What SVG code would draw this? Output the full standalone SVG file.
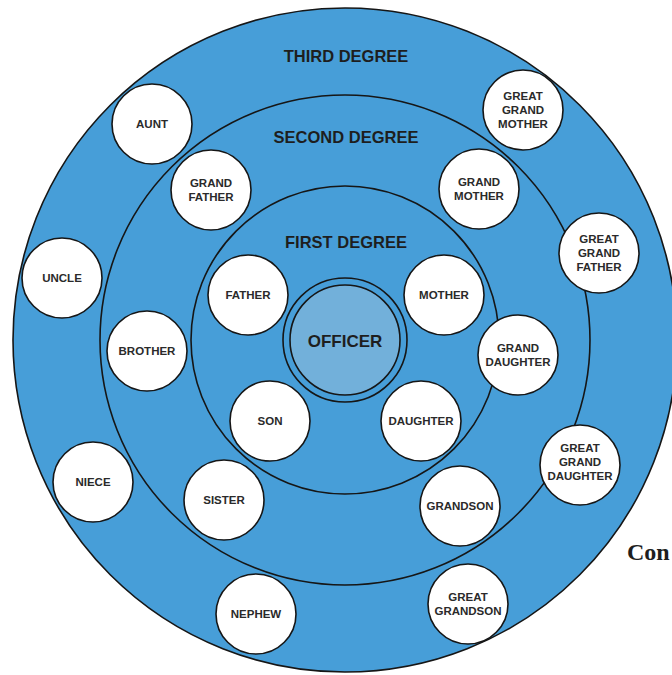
<svg xmlns="http://www.w3.org/2000/svg" width="672" height="675" viewBox="0 0 672 675">
<style>
.ring{fill:#479ED8;stroke:#161616;stroke-width:1.6}
.node{fill:#ffffff;stroke:#161616;stroke-width:1.6}
.lbl{font-family:"Liberation Sans",Arial,sans-serif;font-weight:bold;font-size:11.5px;fill:#2a2a2a;text-anchor:middle}
.deg{font-family:"Liberation Sans",Arial,sans-serif;font-weight:bold;font-size:16.5px;fill:#1e1e1e;text-anchor:middle}
</style>
<rect width="672" height="675" fill="#ffffff"/>
<g id="rings">
<circle class="ring" cx="345" cy="340" r="332"/>
<circle class="ring" cx="345" cy="340" r="245"/>
<circle class="ring" cx="345" cy="340" r="154"/>
<text class="deg" x="346" y="62">THIRD DEGREE</text>
<text class="deg" x="346" y="143">SECOND DEGREE</text>
<text class="deg" x="346" y="248">FIRST DEGREE</text>
</g>
<g id="connectors"></g>
<g id="officer">
<circle cx="345" cy="340" r="62" fill="#479ED8" stroke="#161616" stroke-width="1.6"/>
<circle cx="345" cy="340" r="55" fill="#72B0DA" stroke="#161616" stroke-width="1.6"/>
<text class="lbl" x="345" y="347" style="font-size:17px;fill:#1e1e1e">OFFICER</text>
</g>
<g id="father"><circle class="node" cx="248" cy="295" r="40"/><text class="lbl" x="248" y="299">FATHER</text></g>
<g id="mother"><circle class="node" cx="444" cy="295" r="40"/><text class="lbl" x="444" y="299">MOTHER</text></g>
<g id="son"><circle class="node" cx="270" cy="421" r="40"/><text class="lbl" x="270" y="425">SON</text></g>
<g id="daughter"><circle class="node" cx="421" cy="421" r="40"/><text class="lbl" x="421" y="425">DAUGHTER</text></g>
<g id="grandfather"><circle class="node" cx="211" cy="190" r="40"/><text class="lbl" x="211" y="187">GRAND</text><text class="lbl" x="211" y="201">FATHER</text></g>
<g id="grandmother"><circle class="node" cx="479" cy="189" r="40"/><text class="lbl" x="479" y="186">GRAND</text><text class="lbl" x="479" y="200">MOTHER</text></g>
<g id="brother"><circle class="node" cx="147" cy="351" r="40"/><text class="lbl" x="147" y="355">BROTHER</text></g>
<g id="granddaughter"><circle class="node" cx="518" cy="355" r="40"/><text class="lbl" x="518" y="352">GRAND</text><text class="lbl" x="518" y="366">DAUGHTER</text></g>
<g id="sister"><circle class="node" cx="224" cy="500" r="40"/><text class="lbl" x="224" y="504">SISTER</text></g>
<g id="grandson"><circle class="node" cx="460" cy="506" r="40"/><text class="lbl" x="460" y="510">GRANDSON</text></g>
<g id="aunt"><circle class="node" cx="152" cy="124" r="40"/><text class="lbl" x="152" y="128">AUNT</text></g>
<g id="uncle"><circle class="node" cx="62" cy="278" r="40"/><text class="lbl" x="62" y="282">UNCLE</text></g>
<g id="niece"><circle class="node" cx="93" cy="482" r="40"/><text class="lbl" x="93" y="486">NIECE</text></g>
<g id="nephew"><circle class="node" cx="256" cy="614" r="40"/><text class="lbl" x="256" y="618">NEPHEW</text></g>
<g id="greatgrandmother"><circle class="node" cx="523" cy="110" r="40"/><text class="lbl" x="523" y="100">GREAT</text><text class="lbl" x="523" y="114">GRAND</text><text class="lbl" x="523" y="128">MOTHER</text></g>
<g id="greatgrandfather"><circle class="node" cx="599" cy="253" r="40"/><text class="lbl" x="599" y="243">GREAT</text><text class="lbl" x="599" y="257">GRAND</text><text class="lbl" x="599" y="271">FATHER</text></g>
<g id="greatgranddaughter"><circle class="node" cx="580" cy="465" r="40"/><text class="lbl" x="580" y="452">GREAT</text><text class="lbl" x="580" y="466">GRAND</text><text class="lbl" x="580" y="480">DAUGHTER</text></g>
<g id="greatgrandson"><circle class="node" cx="468" cy="604" r="40"/><text class="lbl" x="468" y="601">GREAT</text><text class="lbl" x="468" y="615">GRANDSON</text></g>
<text x="627" y="560" style="font-family:'Liberation Serif','Times New Roman',serif;font-weight:bold;font-size:24px;fill:#1e1e1e">Con</text>
</svg>
